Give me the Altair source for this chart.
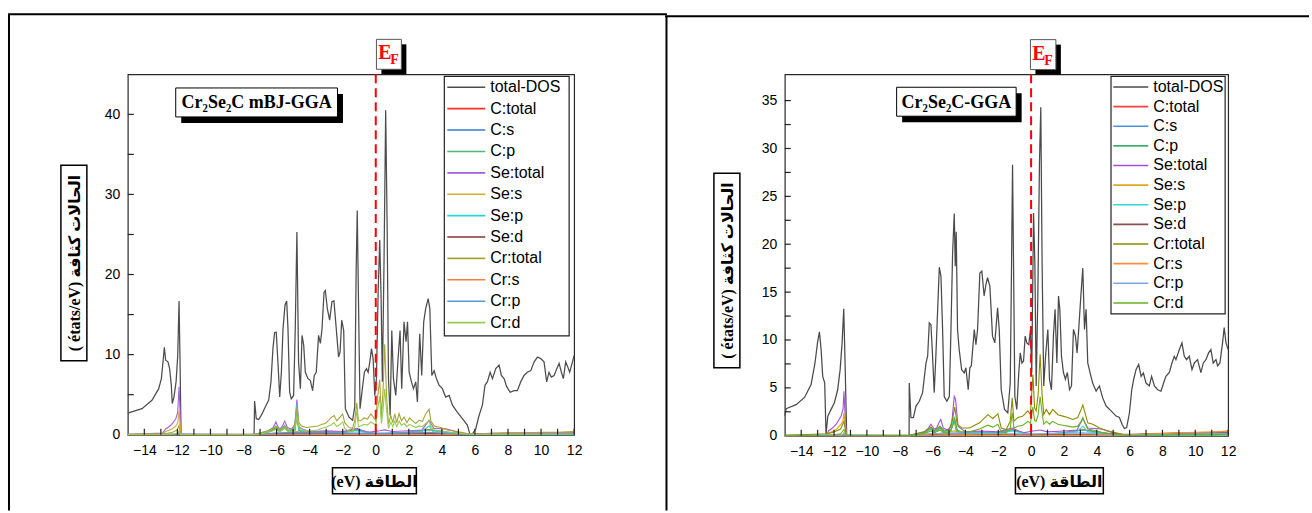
import altair as alt
import pandas as pd

SANS = "Liberation Sans"
SERIF = "Liberation Serif, DejaVu Sans"

SERIES = ["total-DOS", "C:total", "C:s", "C:p", "Se:total", "Se:s", "Se:p", "Se:d",
          "Cr:total", "Cr:s", "Cr:p", "Cr:d"]
COLORS_L = ["#4d4d4d", "#ff2a2a", "#3a78d8", "#4cb87a", "#a45ee0", "#d8aa30",
            "#2fd0d0", "#853535", "#a6a636", "#ff8040", "#5a96dc", "#95cc50"]
COLORS_R = ["#4a4a4a", "#ff4040", "#4a90e2", "#3cb371", "#a050e0", "#e0a820",
            "#30d8d8", "#8a5050", "#8b8b00", "#ff8c40", "#80a8e0", "#6ab023"]

X_LABELS = list(range(-14, 13, 2))
X_TICKS = list(range(-14, 13))

# ---------------- left panel (mBJ-GGA) ----------------
E_TOT_L = [-15.0, -14.14, -13.54, -13.13, -12.97, -12.87, -12.79, -12.71, -12.57, -12.47,
           -12.37, -12.31, -12.21, -12.08, -11.98, -11.9, -11.84, -11.78, -7.36, -7.33,
           -7.23, -7.08, -6.88, -6.68, -6.48, -6.34, -6.22, -6.12, -6.02, -5.92,
           -5.81, -5.71, -5.61, -5.49, -5.39, -5.31, -5.21, -5.11, -4.97, -4.87,
           -4.77, -4.67, -4.56, -4.46, -4.36, -4.26, -4.1, -3.96, -3.82, -3.72,
           -3.6, -3.46, -3.35, -3.25, -3.13, -3.05, -2.93, -2.79, -2.65, -2.53,
           -2.39, -2.25, -2.16, -2.06, -1.94, -1.84, -1.62, -1.4, -1.27, -1.19,
           -1.12, -1.05, -0.95, -0.81, -0.69, -0.56, -0.46, -0.36, -0.26, -0.16,
           -0.06, 0.04, 0.14, 0.24, 0.32, 0.4, 0.5, 0.6, 0.69, 0.77,
           0.87, 0.97, 1.07, 1.21, 1.35, 1.47, 1.57, 1.71, 1.83, 1.92,
           2.02, 2.16, 2.28, 2.42, 2.52, 2.66, 2.78, 2.9, 3.02, 3.17,
           3.27, 3.39, 3.53, 3.67, 3.83, 4.03, 4.23, 4.44, 4.64, 4.94,
           5.24, 5.54, 5.69, 5.85, 6.05, 6.25, 6.45, 6.61, 6.75, 6.92,
           7.06, 7.26, 7.46, 7.6, 7.76, 7.92, 8.13, 8.37, 8.57, 8.77,
           8.97, 9.17, 9.38, 9.58, 9.78, 9.98, 10.18, 10.34, 10.48, 10.62,
           10.79, 10.95, 11.09, 11.23, 11.35, 11.49, 11.61, 11.73, 11.9, 12.0]
DOS_TOT_L = [2.7, 3.25, 4.3, 5.75, 7.0, 9.1, 10.9, 9.3, 9.1, 8.25,
             6.2, 3.9, 4.7, 6.6, 9.9, 16.7, 9.1, 0.0, 0.0, 4.2,
             2.0, 1.9, 2.6, 3.5, 4.3, 6.6, 10.75, 12.75, 12.8, 9.1,
             4.7, 7.8, 13.25, 16.2, 16.7, 13.25, 5.3, 4.5, 4.9, 13.25,
             25.3, 9.1, 5.75, 12.4, 11.2, 7.8, 7.0, 6.8, 5.5, 7.4,
             7.8, 12.4, 11.4, 13.25, 17.8, 18.0, 15.75, 14.3, 16.6, 16.7,
             13.25, 9.7, 10.3, 14.3, 13.0, 3.25, 2.2, 1.8, 3.5, 20.0,
             28.0, 17.4, 3.25, 5.75, 7.8, 8.25, 7.8, 9.1, 10.75, 9.5,
             4.9, 7.0, 17.4, 24.3, 17.4, 6.6, 21.6, 40.5, 25.75, 7.0,
             2.4, 13.0, 7.0, 4.9, 9.5, 13.0, 5.75, 14.1, 11.6, 14.1,
             7.8, 6.6, 5.75, 6.6, 4.1, 12.6, 7.4, 14.1, 15.75, 17.0,
             15.75, 7.4, 8.0, 7.0, 6.2, 5.75, 4.7, 4.9, 3.7, 2.8,
             2.0, 1.2, 0.1, 0.1, 0.75, 2.4, 3.7, 6.2, 6.6, 7.8,
             7.0, 8.25, 8.7, 7.4, 7.0, 6.0, 5.3, 5.5, 5.5, 6.6,
             7.4, 7.8, 8.0, 9.1, 9.7, 9.5, 9.1, 6.6, 7.8, 7.2,
             7.4, 8.25, 8.9, 7.8, 7.0, 9.1, 8.5, 7.8, 9.1, 9.9]

E_CR_L = [-15, -12.7, -12.3, -12.0, -11.9, -11.8, -7.35, -7.0, -6.5, -6.2,
          -6.04, -5.85, -5.7, -5.51, -5.3, -5.0, -4.85, -4.77, -4.65, -4.5,
          -4.2, -3.86, -3.5, -3.25, -3.05, -2.85, -2.72, -2.52, -2.36, -2.16,
          -2.0, -1.88, -1.61, -1.41, -1.27, -1.15, -1.05, -0.91, -0.71, -0.5,
          -0.3, -0.14, 0.0, 0.1, 0.24, 0.34, 0.44, 0.54, 0.66, 0.77,
          0.91, 1.03, 1.15, 1.27, 1.41, 1.55, 1.71, 1.88, 2.04, 2.22,
          2.42, 2.62, 2.82, 3.02, 3.23, 3.33, 3.53, 3.93, 4.33, 4.94,
          5.54, 6.15, 7.0, 8.0, 9.0, 10.0, 11.0, 12.0]
CR_TOTAL_L = [0.05, 0.15, 0.3, 0.6, 1.2, 0.05, 0.05, 0.2, 0.5, 0.8,
              1.0, 0.6, 0.7, 1.1, 0.6, 0.7, 1.8, 3.5, 1.5, 1.1,
              0.9, 1.0, 1.1, 1.3, 1.4, 1.8, 2.1, 2.4, 1.75, 2.2,
              2.6, 1.5, 0.9, 0.8, 1.75, 4.0, 1.75, 1.75, 2.1, 1.95,
              2.6, 2.2, 1.75, 4.5, 6.9, 2.2, 5.5, 11.3, 4.6, 1.3,
              2.4, 1.5, 2.6, 1.5, 2.65, 1.75, 2.2, 1.5, 2.1, 1.75,
              1.4, 1.8, 1.65, 2.6, 3.2, 1.75, 1.1, 0.9, 0.6, 0.4,
              0.15, 0.05, 0.2, 0.25, 0.2, 0.3, 0.3, 0.4]
CR_D_L = [0.02, 0.05, 0.1, 0.2, 0.5, 0.02, 0.02, 0.1, 0.3, 0.5,
          0.7, 0.4, 0.5, 0.8, 0.4, 0.4, 1.2, 2.4, 0.9, 0.6,
          0.5, 0.5, 0.6, 0.8, 0.9, 1.1, 1.2, 1.5, 1.0, 1.3,
          1.6, 0.8, 0.4, 0.4, 1.0, 3.0, 1.0, 1.1, 1.3, 1.2,
          1.6, 1.4, 1.2, 3.0, 4.8, 1.4, 3.0, 5.7, 3.0, 0.8,
          1.6, 1.0, 1.7, 1.0, 1.7, 1.2, 1.4, 1.0, 1.3, 1.1,
          0.9, 1.1, 1.0, 1.4, 1.7, 1.0, 0.6, 0.5, 0.35, 0.2,
          0.08, 0.02, 0.05, 0.08, 0.08, 0.1, 0.1, 0.1]

E_SE_L = [-15, -12.9, -12.7, -12.5, -12.3, -12.1, -11.98, -11.9, -11.84, -11.78,
          -7.35, -7.0, -6.5, -6.2, -6.04, -5.9, -5.77, -5.62, -5.51, -5.35,
          -5.1, -4.9, -4.77, -4.65, -4.5, -4.0, -3.0, -2.0, -1.15, -0.5,
          0.24, 0.54, 1.0, 2.0, 2.8, 3.23, 3.5, 4.3, 5.0, 5.6,
          7.0, 9.0, 12.0]
SE_TOTAL_L = [0.05, 0.2, 0.75, 1.0, 1.4, 2.0, 2.8, 6.0, 3.0, 0.05,
              0.05, 0.2, 0.5, 0.9, 1.6, 0.9, 0.75, 1.2, 1.7, 0.9,
              0.7, 1.2, 4.4, 1.0, 0.75, 0.4, 0.5, 0.4, 0.8, 0.3,
              0.5, 0.6, 0.4, 0.5, 0.6, 1.8, 0.8, 0.7, 0.3, 0.1,
              0.1, 0.15, 0.2]
E_SES_L = [-15, -12.9, -12.7, -12.5, -12.3, -12.1, -11.98, -11.9, -11.84, -11.78,
           -7.35, -6.04, -5.51, -4.77, -4.0, 12.0]
SE_S_L = [0.02, 0.1, 0.4, 0.55, 0.75, 1.1, 1.5, 3.0, 1.4, 0.02,
          0.02, 0.2, 0.2, 0.4, 0.05, 0.05]
E_SEP_L = [-15, -12.0, -11.9, -11.8, -7.35, -6.5, -6.04, -5.8, -5.51, -5.3,
           -4.9, -4.77, -4.65, -4.3, -3.0, -2.0, -1.15, 0.0, 1.0, 2.0,
           2.8, 3.23, 3.45, 4.3, 5.6, 12.0]
SE_P_L = [0.02, 0.1, 0.3, 0.02, 0.02, 0.4, 1.1, 0.5, 1.2, 0.5,
          0.6, 3.8, 0.6, 0.3, 0.3, 0.25, 0.5, 0.1, 0.2, 0.3,
          0.4, 1.1, 0.4, 0.3, 0.05, 0.05]
E_CP_L = [-15, -7.35, -6.5, -6.04, -5.8, -5.51, -5.3, -4.9, -4.77, -4.65,
          -4.3, -3.0, -2.0, -1.15, 0.0, 1.0, 2.0, 3.23, 4.3, 5.6, 12.0]
C_P_L = [0.0, 0.0, 0.3, 0.8, 0.4, 0.9, 0.4, 0.5, 2.5, 0.5,
         0.3, 0.35, 0.3, 0.6, 0.1, 0.15, 0.3, 0.6, 0.3, 0.05, 0.05]
C_TOTAL_L = [0.0, 0.0, 0.32, 0.85, 0.42, 0.95, 0.42, 0.55, 2.6, 0.55,
             0.33, 0.38, 0.33, 0.65, 0.12, 0.17, 0.33, 0.65, 0.33, 0.06, 0.06]
E_CS_L = [-15, -12.0, -11.9, -11.8, -7.35, -4.77, -1.15, 3.2, 12.0]
C_S_L = [0.0, 0.05, 0.3, 0.0, 0.0, 0.15, 0.1, 0.1, 0.02]
E_SED_L = [-15, -7.35, -4.77, -1.15, 0.5, 3.2, 6.0, 9.0, 12.0]
SE_D_L = [0.0, 0.02, 0.2, 0.1, 0.1, 0.15, 0.1, 0.2, 0.25]
E_CRS_L = [-15, -12.0, -11.9, -11.8, -7.35, -4.77, -1.15, 0.5, 3.2, 6.0, 9.0, 12.0]
CR_S_L = [0.0, 0.05, 0.2, 0.0, 0.0, 0.1, 0.05, 0.05, 0.05, 0.1, 0.25, 0.3]
E_CRP_L = [-15, -11.9, -7.35, -6.04, -4.77, -1.15, 0.5, 3.2, 5.6, 9.0, 12.0]
CR_P_L = [0.0, 0.1, 0.0, 0.2, 0.3, 0.2, 0.2, 0.3, 0.05, 0.15, 0.2]

# ---------------- right panel (GGA) ----------------
E_TOT_R = [-15.0, -14.92, -14.82, -14.31, -13.8, -13.4, -13.16, -13.01, -12.89, -12.79,
           -12.69, -12.57, -12.49, -12.38, -12.18, -11.98, -11.78, -11.63, -11.51, -11.41,
           -11.33, -11.23, -7.43, -7.42, -7.32, -7.17, -7.01, -6.81, -6.61, -6.4,
           -6.3, -6.2, -6.1, -6.0, -5.9, -5.8, -5.69, -5.59, -5.49, -5.39,
           -5.29, -5.13, -4.98, -4.88, -4.78, -4.68, -4.62, -4.56, -4.48, -4.38,
           -4.23, -4.07, -3.97, -3.83, -3.73, -3.64, -3.46, -3.36, -3.26, -3.12,
           -3.0, -2.86, -2.75, -2.65, -2.51, -2.35, -2.21, -2.04, -1.94, -1.82,
           -1.62, -1.42, -1.27, -1.19, -1.13, -1.07, -0.99, -0.87, -0.75, -0.66,
           -0.56, -0.46, -0.36, -0.26, -0.14, -0.04, 0.04, 0.15, 0.23, 0.31,
           0.41, 0.51, 0.59, 0.67, 0.77, 0.88, 1.02, 1.12, 1.24, 1.36,
           1.46, 1.57, 1.67, 1.75, 1.85, 1.97, 2.09, 2.21, 2.34, 2.46,
           2.58, 2.7, 2.8, 2.9, 3.03, 3.15, 3.25, 3.35, 3.45, 3.59,
           3.75, 3.96, 4.16, 4.36, 4.57, 4.87, 5.18, 5.38, 5.54, 5.68,
           5.82, 5.99, 6.13, 6.25, 6.39, 6.55, 6.7, 6.84, 7.0, 7.2,
           7.34, 7.51, 7.71, 7.91, 8.07, 8.21, 8.42, 8.58, 8.72, 8.82,
           9.03, 9.19, 9.33, 9.47, 9.63, 9.8, 9.94, 10.14, 10.34, 10.49,
           10.65, 10.81, 10.95, 11.09, 11.26, 11.36, 11.5, 11.66, 11.76, 11.87,
           12.0]
DOS_TOT_R = [2.1, 2.8, 2.9, 3.25, 4.0, 5.35, 7.6, 9.7, 10.85, 9.0,
             6.2, 5.5, 0.15, 2.05, 2.75, 3.45, 4.8, 6.9, 9.7, 13.25,
             7.6, 0.0, 0.0, 5.5, 1.9, 1.9, 3.1, 3.6, 4.5, 7.6,
             8.3, 11.8, 11.6, 8.3, 4.5, 8.3, 13.2, 17.6, 16.65, 11.1,
             4.1, 3.6, 4.1, 11.1, 19.1, 23.2, 17.7, 21.3, 11.1, 9.0,
             6.9, 6.55, 7.1, 4.8, 7.1, 7.3, 11.1, 9.5, 11.1, 17.0,
             17.2, 14.6, 15.8, 16.5, 15.6, 10.4, 9.7, 13.35, 11.1, 4.8,
             2.75, 2.4, 5.5, 18.0, 28.3, 18.0, 4.1, 2.75, 6.6, 8.65,
             7.6, 7.8, 10.4, 9.7, 9.5, 11.1, 6.6, 23.25, 18.0, 5.2,
             14.6, 28.5, 34.3, 18.0, 5.2, 8.3, 11.1, 5.9, 4.8, 10.4,
             13.2, 7.6, 14.6, 13.2, 8.3, 6.6, 5.9, 6.6, 4.8, 5.2,
             11.1, 10.4, 8.65, 11.1, 14.6, 17.5, 11.1, 13.2, 7.6, 6.6,
             5.5, 4.65, 5.2, 3.95, 3.1, 2.6, 2.05, 1.9, 1.2, 0.75,
             0.85, 2.4, 4.8, 5.9, 6.9, 7.45, 6.2, 6.55, 5.5, 5.2,
             6.2, 5.2, 4.8, 4.65, 5.5, 6.2, 6.6, 7.6, 8.3, 7.95,
             9.0, 9.7, 8.3, 7.95, 8.3, 6.9, 7.6, 7.95, 6.6, 7.6,
             7.95, 8.65, 9.0, 7.6, 7.95, 7.3, 7.6, 9.7, 11.3, 9.7,
             9.0]

E_CR_R = [-15, -12.4, -12.0, -11.6, -11.4, -11.25, -7.4, -7.0, -6.5, -6.1,
          -5.9, -5.55, -5.3, -5.0, -4.8, -4.65, -4.5, -4.2, -3.75, -3.14,
          -2.63, -2.33, -2.02, -1.82, -1.52, -1.27, -1.15, -1.05, -0.81, -0.5,
          -0.2, -0.04, 0.11, 0.21, 0.31, 0.43, 0.55, 0.67, 0.77, 0.92,
          1.12, 1.32, 1.63, 1.93, 2.23, 2.54, 2.84, 3.05, 3.15, 3.25,
          3.45, 3.76, 4.16, 4.57, 5.17, 5.58, 6.0, 7.0, 8.0, 9.0,
          10.0, 11.0, 12.0]
CR_TOTAL_R = [0.05, 0.2, 0.4, 0.7, 1.5, 0.05, 0.05, 0.2, 0.4, 0.9,
              0.5, 1.0, 0.5, 0.6, 1.6, 3.0, 1.2, 0.8, 0.8, 1.35,
              2.2, 1.8, 2.3, 0.8, 0.65, 1.5, 3.95, 1.5, 1.9, 2.05,
              2.6, 2.2, 6.4, 2.9, 2.6, 4.3, 8.5, 4.3, 2.2, 2.75,
              2.2, 2.75, 2.2, 2.05, 1.9, 1.7, 1.9, 2.75, 3.2, 2.6,
              1.35, 1.2, 0.8, 0.55, 0.3, 0.15, 0.05, 0.2, 0.25, 0.3,
              0.3, 0.35, 0.5]
CR_D_R = [0.02, 0.05, 0.1, 0.2, 0.65, 0.02, 0.02, 0.1, 0.2, 0.5,
          0.3, 0.6, 0.3, 0.3, 0.9, 1.8, 0.6, 0.4, 0.4, 0.7,
          1.1, 0.9, 1.2, 0.4, 0.3, 0.8, 2.4, 0.8, 1.0, 1.1,
          1.5, 1.3, 3.0, 1.6, 1.5, 2.2, 4.1, 2.4, 1.2, 1.5,
          1.2, 1.5, 1.2, 1.1, 1.0, 0.9, 1.0, 1.5, 1.9, 1.4,
          0.7, 0.6, 0.4, 0.25, 0.12, 0.05, 0.02, 0.05, 0.08, 0.1,
          0.1, 0.12, 0.15]

E_SE_R = [-15, -12.45, -12.35, -12.1, -11.87, -11.57, -11.45, -11.4, -11.32, -11.25,
          -7.4, -7.0, -6.5, -6.25, -6.1, -5.9, -5.75, -5.6, -5.5, -5.35,
          -5.1, -4.85, -4.68, -4.6, -4.45, -4.0, -3.0, -2.0, -1.15, -0.5,
          0.11, 0.55, 1.0, 2.0, 2.8, 3.15, 3.45, 4.3, 5.0, 5.6,
          7.0, 9.0, 12.0]
SE_TOTAL_R = [0.05, 0.05, 0.5, 0.8, 1.2, 2.05, 2.8, 4.65, 2.0, 0.05,
              0.05, 0.2, 0.4, 0.8, 1.2, 0.7, 0.8, 1.4, 1.7, 0.8,
              0.6, 1.0, 4.1, 3.8, 1.0, 0.4, 0.5, 0.4, 0.8, 0.3,
              0.5, 0.6, 0.4, 0.5, 0.6, 1.8, 0.8, 0.7, 0.3, 0.1,
              0.1, 0.15, 0.2]
E_SES_R = [-15, -12.45, -12.35, -12.1, -11.87, -11.57, -11.45, -11.4, -11.32, -11.25,
           -7.4, -6.1, -5.55, -4.65, -4.0, 12.0]
SE_S_R = [0.02, 0.02, 0.3, 0.45, 0.65, 1.2, 1.6, 2.4, 1.2, 0.02,
          0.02, 0.2, 0.25, 0.5, 0.05, 0.05]
E_SEP_R = [-15, -11.5, -11.4, -11.25, -7.4, -6.5, -6.1, -5.85, -5.55, -5.3,
           -4.9, -4.68, -4.55, -4.3, -3.0, -2.0, -1.15, 0.0, 1.0, 2.0,
           2.8, 3.15, 3.45, 4.3, 5.6, 12.0]
SE_P_R = [0.02, 0.1, 0.3, 0.02, 0.02, 0.3, 0.8, 0.4, 1.0, 0.4,
          0.5, 2.0, 0.7, 0.3, 0.3, 0.25, 0.5, 0.1, 0.2, 0.3,
          0.4, 1.0, 0.4, 0.3, 0.05, 0.05]
E_CP_R = [-15, -7.4, -6.5, -6.1, -5.85, -5.55, -5.3, -4.9, -4.68, -4.55,
          -4.3, -3.0, -2.0, -1.15, 0.0, 1.0, 2.0, 3.15, 4.3, 5.6, 12.0]
C_P_R = [0.0, 0.0, 0.3, 0.7, 0.35, 0.8, 0.35, 0.45, 1.6, 0.5,
         0.3, 0.35, 0.3, 0.6, 0.1, 0.15, 0.3, 0.6, 0.3, 0.05, 0.05]
C_TOTAL_R = [0.0, 0.0, 0.32, 0.75, 0.38, 0.85, 0.38, 0.5, 1.7, 0.55,
             0.33, 0.38, 0.33, 0.65, 0.12, 0.17, 0.33, 0.65, 0.33, 0.06, 0.06]
E_CS_R = [-15, -11.5, -11.4, -11.25, -7.4, -4.68, -1.13, 3.15, 12.0]
C_S_R = [0.0, 0.05, 0.25, 0.0, 0.0, 0.15, 0.1, 0.1, 0.02]
E_SED_R = [-15, -7.4, -4.68, -1.13, 0.55, 3.15, 6.0, 9.0, 12.0]
SE_D_R = [0.0, 0.02, 0.2, 0.1, 0.1, 0.15, 0.15, 0.25, 0.35]
E_CRS_R = [-15, -11.5, -11.4, -11.25, -7.4, -4.68, -1.13, 0.55, 3.15, 6.0, 9.0, 12.0]
CR_S_R = [0.0, 0.05, 0.2, 0.0, 0.0, 0.1, 0.05, 0.05, 0.05, 0.1, 0.3, 0.45]
E_CRP_R = [-15, -11.4, -7.4, -6.1, -4.68, -1.13, 0.55, 3.15, 5.6, 9.0, 12.0]
CR_P_R = [0.0, 0.1, 0.0, 0.2, 0.3, 0.2, 0.2, 0.3, 0.05, 0.15, 0.25]

LEFT = {
    "total-DOS": (E_TOT_L, DOS_TOT_L), "C:total": (E_CP_L, C_TOTAL_L), "C:s": (E_CS_L, C_S_L),
    "C:p": (E_CP_L, C_P_L), "Se:total": (E_SE_L, SE_TOTAL_L), "Se:s": (E_SES_L, SE_S_L),
    "Se:p": (E_SEP_L, SE_P_L), "Se:d": (E_SED_L, SE_D_L), "Cr:total": (E_CR_L, CR_TOTAL_L),
    "Cr:s": (E_CRS_L, CR_S_L), "Cr:p": (E_CRP_L, CR_P_L), "Cr:d": (E_CR_L, CR_D_L),
}
RIGHT = {
    "total-DOS": (E_TOT_R, DOS_TOT_R), "C:total": (E_CP_R, C_TOTAL_R), "C:s": (E_CS_R, C_S_R),
    "C:p": (E_CP_R, C_P_R), "Se:total": (E_SE_R, SE_TOTAL_R), "Se:s": (E_SES_R, SE_S_R),
    "Se:p": (E_SEP_R, SE_P_R), "Se:d": (E_SED_R, SE_D_R), "Cr:total": (E_CR_R, CR_TOTAL_R),
    "Cr:s": (E_CRS_R, CR_S_R), "Cr:p": (E_CRP_R, CR_P_R), "Cr:d": (E_CR_R, CR_D_R),
}

Y_TITLE = "( états/eV) الحالات كثافة"
X_TITLE = "(eV) الطاقة"

ONE = pd.DataFrame({"k": [0]})


def rect(x1, x2, y1, y2, **kw):
    return alt.Chart(ONE).mark_rect(**kw).encode(
        x=alt.value(x1), x2=alt.value(x2), y=alt.value(y1), y2=alt.value(y2))


def hline(x1, x2, y, **kw):
    return alt.Chart(ONE).mark_rule(**kw).encode(x=alt.value(x1), x2=alt.value(x2), y=alt.value(y))


def vline(x, y1, y2, **kw):
    return alt.Chart(ONE).mark_rule(**kw).encode(x=alt.value(x), y=alt.value(y1), y2=alt.value(y2))


def label(x, y, s, **kw):
    return alt.Chart(pd.DataFrame({"s": [s]})).mark_text(**kw).encode(
        x=alt.value(x), y=alt.value(y), text="s:N")


def make_panel(p):
    W, H = p["W"], p["H"]
    xs = alt.Scale(domain=[-15, 12], nice=False, zero=False)
    ys = alt.Scale(domain=[0, p["ymax"]], nice=False, zero=False)
    xaxis = alt.Axis(values=X_LABELS, title=None, ticks=False, tickSize=0, domain=False, grid=False,
                     labelFont=SANS, labelFontSize=14, labelColor="black", labelPadding=9,
                     labelFlush=False, labelOverlap=False)
    yaxis = alt.Axis(values=p["ylabels"], title=None, ticks=False, tickSize=0, domain=False, grid=False,
                     labelFont=SANS, labelFontSize=14, labelColor="black", labelPadding=8,
                     labelFlush=False, labelOverlap=False)
    cs = alt.Scale(domain=SERIES, range=p["colors"])

    a = []
    if p["bg"]:
        a.append(rect(-127, 1185, -73, 440, opacity=0))
    fr = p["frame"]
    a.append(hline(fr[0], fr[1], fr[2], color="black", strokeWidth=2))
    a.append(vline(fr[3], fr[2], 437, color="black", strokeWidth=2))

    for name in SERIES:
        es, vs = p["data"][name]
        df = pd.DataFrame({"E": es, "DOS": vs, "series": name})
        a.append(alt.Chart(df).mark_line(strokeWidth=1.25 if name == "total-DOS" else 1.1).encode(
            x=alt.X("E:Q", scale=xs, axis=xaxis),
            y=alt.Y("DOS:Q", scale=ys, axis=yaxis),
            color=alt.Color("series:N", scale=cs, legend=None),
        ))

    a.append(alt.Chart(pd.DataFrame({"t": X_TICKS})).mark_rule(color="#222222", strokeWidth=1.2).encode(
        x=alt.X("t:Q", scale=xs, axis=xaxis), y=alt.value(H), y2=alt.value(H - 6)))
    a.append(alt.Chart(pd.DataFrame({"v": p["yticks"]})).mark_rule(color="#222222", strokeWidth=1.2).encode(
        y=alt.Y("v:Q", scale=ys, axis=yaxis), x=alt.value(0), x2=alt.value(6)))
    a.append(alt.Chart(pd.DataFrame({"e": [0.0]})).mark_rule(color="#ff0000", strokeWidth=2, strokeDash=[9, 5]).encode(
        x=alt.X("e:Q", scale=xs, axis=xaxis), y=alt.value(0), y2=alt.value(H)))

    # title box with shadow
    tb = p["tbox"]
    a.append(rect(tb[0] + 5.5, tb[1] + 5.5, tb[2] + 6, tb[3] + 6, fill="black"))
    a.append(rect(tb[0], tb[1], tb[2], tb[3], fill="white", stroke="black", strokeWidth=1))
    a.append(label((tb[0] + tb[1]) / 2, (tb[2] + tb[3]) / 2 + 1, p["title"], font=SERIF, fontWeight="bold",
                   fontSize=18, align="center", baseline="middle", color="black"))

    # E_F box
    eb = p["efbox"]
    a.append(rect(eb[0] + 5, eb[1] + 5, eb[2] + 5, eb[3] + 5, fill="black"))
    a.append(rect(eb[0], eb[1], eb[2], eb[3], fill="white", stroke="#555555", strokeWidth=1))
    a.append(label(eb[0] + 8.5, eb[2] + 20, "E", font=SERIF, fontWeight="bold", fontSize=20,
                   align="center", baseline="alphabetic", color="#ff0000"))
    a.append(label(eb[0] + 18, eb[2] + 25, "F", font=SERIF, fontWeight="bold", fontSize=14,
                   align="center", baseline="alphabetic", color="#ff0000"))

    # axis title boxes
    yb = p["ybox"]
    a.append(rect(yb[0], yb[1], yb[2], yb[3], fill="white", stroke="black", strokeWidth=1.5))
    a.append(label((yb[0] + yb[1]) / 2 + 1, (yb[2] + yb[3]) / 2, Y_TITLE, font=SERIF, fontWeight="bold",
                   fontSize=16, angle=270, align="center", baseline="middle", color="black"))
    xb = p["xbox"]
    a.append(rect(xb[0], xb[1], xb[2], xb[3], fill="white", stroke="black", strokeWidth=1.5))
    a.append(label((xb[0] + xb[1]) / 2, (xb[2] + xb[3]) / 2 + 1, X_TITLE, font=SERIF, fontWeight="bold",
                   fontSize=16, align="center", baseline="middle", color="black"))

    layer_a = alt.layer(*a)

    # legend
    lb = p["lbox"]
    leg = pd.DataFrame({"series": SERIES})
    ly = alt.Y("series:N", scale=alt.Scale(type="point", domain=SERIES, range=p["lrange"], padding=0), axis=None)
    b = [
        rect(lb[0], lb[1], lb[2], lb[3], fill="white", stroke="#222222", strokeWidth=1.2),
        alt.Chart(leg).mark_rule(strokeWidth=1.6).encode(
            y=ly, x=alt.value(p["lsym"][0]), x2=alt.value(p["lsym"][1]),
            color=alt.Color("series:N", scale=cs, legend=None)),
        alt.Chart(leg).mark_text(align="left", baseline="middle", font=SANS, fontSize=16, color="black").encode(
            y=ly, x=alt.value(p["lsym"][2]), text="series:N"),
    ]
    layer_b = alt.layer(*b)
    return alt.layer(layer_a, layer_b).resolve_scale(y="independent").properties(width=W, height=H)


P1 = dict(W=447, H=361, ymax=45, ylabels=[0, 10, 20, 30, 40], yticks=[5, 10, 15, 20, 25, 30, 35, 40],
          colors=COLORS_L, data=LEFT, bg=True, frame=(-120, 540, -60, -119),
          tbox=(48, 210, 13.7, 42.7), title="Cr₂Se₂C mBJ-GGA",
          efbox=(249, 274, -35, -5), ybox=(-67, -41, 91, 287), xbox=(205, 289, 394, 420),
          lbox=(317, 442, 2, 262), lrange=[13, 248.7], lsym=(320, 358, 363))
P2 = dict(W=444, H=362, ymax=37.75, ylabels=[0, 5, 10, 15, 20, 25, 30, 35],
          yticks=[2.5, 5, 7.5, 10, 12.5, 15, 17.5, 20, 22.5, 25, 27.5, 30, 32.5, 35],
          colors=COLORS_R, data=RIGHT, bg=False, frame=(-120, 525, -58, -118.5),
          tbox=(112, 231.7, 13, 42), title="Cr₂Se₂C-GGA",
          efbox=(246, 271.5, -34.7, -4.7), ybox=(-71, -45, 99, 294), xbox=(231, 319, 394, 420),
          lbox=(326.7, 441, 2, 240), lrange=[12.7, 229], lsym=(329, 364, 369))

chart = alt.hconcat(make_panel(P1), make_panel(P2), spacing=211, bounds="flush").properties(
    padding=0, background="white"
).resolve_scale(color="independent").configure_view(stroke="#2a2a2a", strokeWidth=1.2)

chart.save("out.html", embed_options={"renderer": "svg", "actions": False})
